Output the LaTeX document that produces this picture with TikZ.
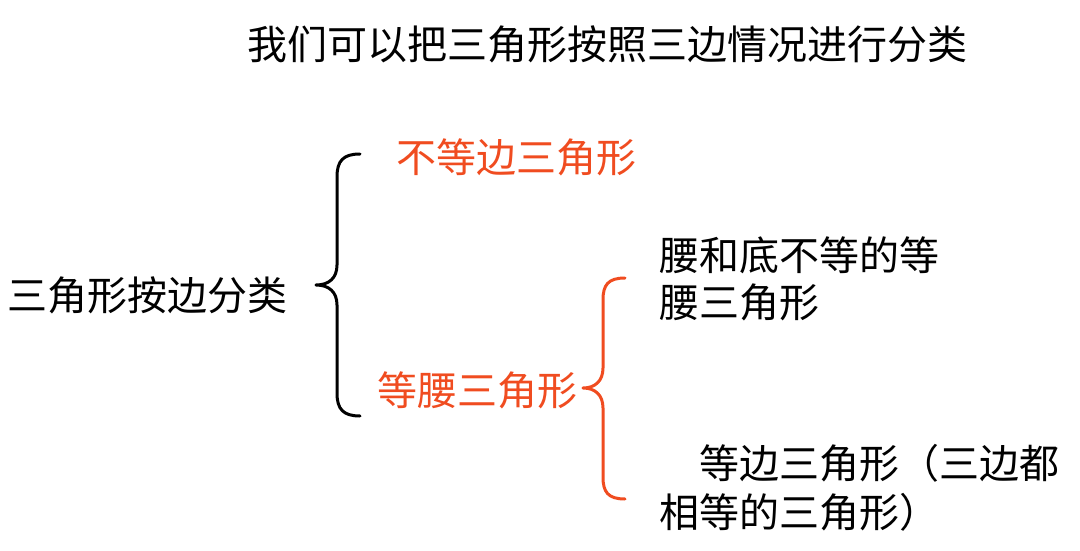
\documentclass[tikz,border=0pt]{standalone}
\usepackage{fontspec}
\setmainfont{Noto Sans CJK SC}
\definecolor{hot}{RGB}{240,76,32}
\begin{document}
\begin{tikzpicture}[x=1pt,y=-1pt,
  txt/.style={inner sep=0pt,anchor=base west,font=\fontsize{40}{47}\selectfont},
  brace/.style={line width=3pt,line cap=round,line join=round}]
\useasboundingbox (0,0) rectangle (1080,551);
\node[txt] (title) at (247,60) {我们可以把三角形按照三边情况进行分类};
\node[txt] (root) at (7,310) {三角形按边分类};
\node[txt,text=hot] (scal) at (396,172) {不等边三角形};
\node[txt,text=hot] (iso) at (377,405) {等腰三角形};
\node[txt] (a1) at (659,270) {腰和底不等的等};
\node[txt] (a2) at (659,317) {腰三角形};
\node[txt] (b1) at (699,478) {等边三角形（三边都};
\node[txt] (b2) at (659,527) {相等的三角形）};
\coordinate (t1) at (316,285);
\coordinate (t2) at (583,388);
\draw[brace] (360,154) .. controls (343,154) and (337,161) .. (337,177) -- (337,265)
  .. controls (337,278) and (329,285) .. (t1)
  .. controls (329,285) and (337,292) .. (337,305) -- (337,393)
  .. controls (337,409) and (343,416) .. (360,416);
\draw[brace,draw=hot] (625,278) .. controls (608,278) and (603,285) .. (603,300) -- (603,368)
  .. controls (603,381) and (595,388) .. (t2)
  .. controls (595,388) and (603,395) .. (603,408) -- (603,477)
  .. controls (603,492) and (608,499) .. (625,499);
\end{tikzpicture}
\end{document}
